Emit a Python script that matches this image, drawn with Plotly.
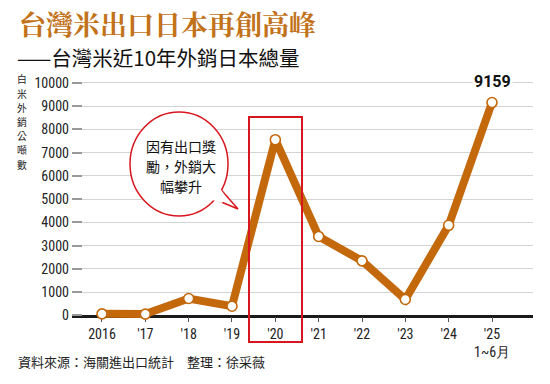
import plotly.graph_objects as go

# ---- data ----
years = ["2016", "'17", "'18", "'19", "'20", "'21", "'22", "'23", "'24", "'25<br>1~6月"]
tonnes = [70, 60, 730, 400, 7560, 3400, 2350, 690, 3880, 9159]
y_ticks = [0, 1000, 2000, 3000, 4000, 5000, 6000, 7000, 8000, 9000, 10000]
title = "台灣米出口日本再創高峰"
subtitle = "——台灣米近10年外銷日本總量"
y_title = "白米外銷公噸數"
bubble_lines = ["因有出口獎", "勵，外銷大", "幅攀升"]
source = "資料來源：海關進出口統計　整理：徐采薇"
peak_label = "9159"

# ---- layout geometry (pixels) ----
W, H = 550, 384
L, R, T, B = 72, 533, 75, 325
PW, PH = R - L, B - T

def px(x):
    return (x - L) / PW

def py(y):
    return (B - y) / PH

idx = list(range(len(years)))
ORANGE = "#C4680C"
RED = "#D8161E"
NUM_FONT = "Roboto Condensed, Liberation Sans Narrow, Roboto, sans-serif"
CJK = "Noto Sans CJK TC, Noto Sans CJK SC, sans-serif"

fig = go.Figure()
fig.add_trace(go.Scatter(
    x=idx, y=tonnes, mode="lines+markers",
    line=dict(color=ORANGE, width=8),
    marker=dict(size=10, color="white", line=dict(color=ORANGE, width=1.6)),
    cliponaxis=False, hoverinfo="skip",
))

y_lo = -409
y_hi = y_lo + PH / 23.25 * 1000

fig.update_layout(
    width=W, height=H,
    margin=dict(l=L, r=W - R, t=T, b=H - B, autoexpand=False),
    paper_bgcolor="white", plot_bgcolor="white",
    showlegend=False,
    xaxis=dict(
        range=[-0.692, 9.946], tickmode="array", tickvals=idx, ticktext=years,
        showgrid=False, zeroline=False, automargin=False,
        anchor="free", position=(B - 315.5) / PH,
        showline=True, linecolor="#1a1a1a", linewidth=2.5,
        ticks="outside", ticklen=5, tickwidth=1, tickcolor="#555",
        tickfont=dict(family=NUM_FONT, size=14, color="#222"),
        layer="below traces",
    ),
    yaxis=dict(
        range=[y_lo, y_hi], tickmode="array", tickvals=y_ticks,
        ticktext=[str(v) for v in y_ticks],
        showgrid=True, gridcolor="#d4d4d4", gridwidth=1,
        zeroline=False, showline=False, automargin=False,
        ticks="inside", ticklen=10, tickwidth=1.5, tickcolor="#999",
        tickfont=dict(family=NUM_FONT, size=14, color="#222"),
        ticklabelstandoff=2,
    ),
    font=dict(family=CJK),
)

# titles
fig.add_annotation(text="<b>" + title + "</b>", xref="paper", yref="paper",
                   x=px(17), y=py(23), xanchor="left", yanchor="middle",
                   showarrow=False,
                   font=dict(family="Noto Serif CJK TC, " + CJK, size=27, color="#C27219"))
fig.add_annotation(text=subtitle, xref="paper", yref="paper",
                   x=px(15), y=py(57.5), xanchor="left", yanchor="middle",
                   showarrow=False, font=dict(family=CJK, size=20.5, color="#111"))
# y-axis title (stacked characters)
n = len(y_title)
for k, ch in enumerate(y_title):
    fig.add_annotation(text=ch, xref="paper", yref="paper",
                       x=px(22), y=py(122 + 14.2 * (k - (n - 1) / 2)),
                       xanchor="center", yanchor="middle", borderpad=0,
                       showarrow=False, font=dict(family=CJK, size=9.8, color="#222"))
# source
fig.add_annotation(text=source, xref="paper", yref="paper",
                   x=px(16), y=py(361), xanchor="left", yanchor="middle",
                   showarrow=False, font=dict(family=CJK, size=13, color="#222"))
# peak label
fig.add_annotation(text="<b>" + peak_label + "</b>", x=idx[-1], y=tonnes[-1],
                   xanchor="center", yanchor="middle", yshift=21,
                   showarrow=False, bgcolor="white",
                   font=dict(family="Roboto, sans-serif", size=16, color="#111"))

# red highlight box around 2020
fig.add_shape(type="rect", xref="paper", yref="paper",
              x0=px(249), x1=px(302), y0=py(342), y1=py(117),
              line=dict(color=RED, width=2), fillcolor="rgba(0,0,0,0)", layer="above")

# speech bubble
def path_px(points, close=False):
    s = "M " + " L ".join(f"{px(x):.5f},{py(y):.5f}" for x, y in points)
    return s + (" Z" if close else "")

fig.add_shape(type="path", xref="paper", yref="paper",
              path=path_px([(207, 196), (238, 209), (216, 184)], close=True),
              line=dict(color=RED, width=1.5), fillcolor="white", layer="above")
fig.add_shape(type="circle", xref="paper", yref="paper",
              x0=px(130), x1=px(228), y0=py(216), y1=py(112),
              line=dict(color=RED, width=1.5), fillcolor="white", layer="above")
fig.add_shape(type="path", xref="paper", yref="paper",
              path=path_px([(209, 199), (219, 187), (226, 197), (222, 203)], close=True),
              line=dict(width=0), fillcolor="white", layer="above")
nb = len(bubble_lines)
for k, line_text in enumerate(bubble_lines):
    fig.add_annotation(text=line_text, xref="paper", yref="paper",
                       x=px(181), y=py(166 + 20.4 * (k - (nb - 1) / 2)),
                       xanchor="center", yanchor="middle", borderpad=0,
                       showarrow=False,
                       font=dict(family=CJK, size=14, color="#111"))

fig.write_html("out.html", config={"displayModeBar": False},
               post_script="document.body.style.margin='0';document.body.style.padding='0';")
